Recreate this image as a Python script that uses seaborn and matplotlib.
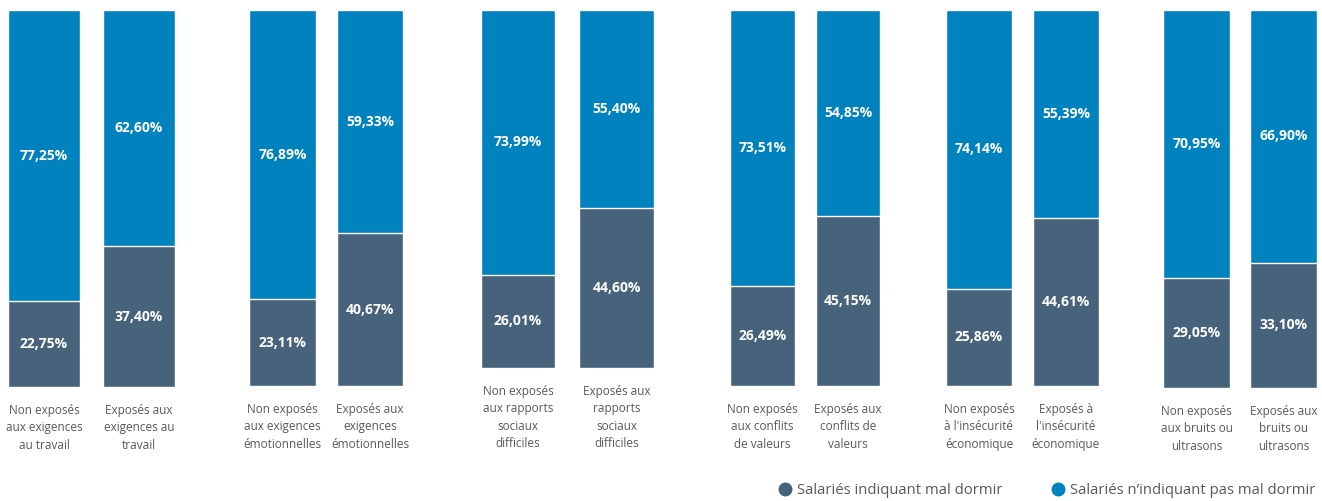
import matplotlib
matplotlib.use("Agg")
import matplotlib.pyplot as plt
import seaborn as sns
import pandas as pd
from matplotlib.lines import Line2D

sns.set_theme(style="white")
plt.rcParams['font.family'] = ['Open Sans', 'DejaVu Sans']

# ---- data ----
labels_exigences = ["Non exposés\naux exigences\nau travail", "Exposés aux\nexigences au\ntravail"]
labels_emotion = ["Non exposés\naux exigences\némotionnelles", "Exposés aux\nexigences\némotionnelles"]
labels_rapports = ["Non exposés\naux rapports\nsociaux\ndifficiles", "Exposés aux\nrapports\nsociaux\ndifficiles"]
labels_conflits = ["Non exposés\naux conflits\nde valeurs", "Exposés aux\nconflits de\nvaleurs"]
labels_insecurite = ["Non exposés\nà l'insécurité\néconomique", "Exposés à\nl'insécurité\néconomique"]
labels_bruits = ["Non exposés\naux bruits ou\nultrasons", "Exposés aux\nbruits ou\nultrasons"]

mal_dormir = [
    [22.75, 37.40],
    [23.11, 40.67],
    [26.01, 44.60],
    [26.49, 45.15],
    [25.86, 44.61],
    [29.05, 33.10],
]
pas_mal_dormir = [
    [77.25, 62.60],
    [76.89, 59.33],
    [73.99, 55.40],
    [73.51, 54.85],
    [74.14, 55.39],
    [70.95, 66.90],
]
group_labels = [labels_exigences, labels_emotion, labels_rapports,
                labels_conflits, labels_insecurite, labels_bruits]
legend_labels = ["Salariés indiquant mal dormir", "Salariés n\u2019indiquant pas mal dormir"]

DARK = "#47637c"
BLUE = "#0082be"
GREY = "#595959"

W, H = 1322, 501
fig = plt.figure(figsize=(W / 100, H / 100), dpi=100)

# pixel layout: centre of bar 1, centre of bar 2, bottom of bars
layout = [(44, 139, 387), (282.5, 370, 386), (518, 616.5, 368),
          (762.5, 848, 386), (979, 1066, 386), (1196.5, 1283.5, 388)]
top = 10


def fmt(v):
    return f"{v:.2f}".replace(".", ",") + "%"


for labels, dark, light, (c1, c2, bottom) in zip(group_labels, mal_dormir, pas_mal_dormir, layout):
    spacing = c2 - c1
    left = c1 - 0.5 * spacing
    ax = fig.add_axes([left / W, 1 - bottom / H, 2 * spacing / W, (bottom - top) / H])
    df = pd.DataFrame({"cat": labels, "dark": dark, "light": light})
    df["total"] = df["dark"] + df["light"]
    sns.barplot(data=df, x="cat", y="total", color=BLUE, width=0.76, saturation=1, ax=ax)
    sns.barplot(data=df, x="cat", y="dark", color=DARK, width=0.76, saturation=1, ax=ax)
    ax.set_ylim(0, df["total"].max())
    ax.set_xlim(-0.5, 1.5)
    for i, (d, l) in enumerate(zip(dark, light)):
        ax.text(i, d / 2, fmt(d), ha="center", va="center", color="white",
                fontsize=10, fontweight="bold")
        ax.text(i, d + l / 2, fmt(l), ha="center", va="center", color="white",
                fontsize=10, fontweight="bold")
    ax.set_xlabel("")
    ax.set_ylabel("")
    ax.set_yticks([])
    ax.tick_params(axis="x", length=0, pad=12, labelsize=8.5, colors=GREY)
    for t in ax.get_xticklabels():
        t.set_linespacing(1.45)
    for s in ax.spines.values():
        s.set_visible(False)

handles = [Line2D([], [], marker="o", ls="", color=DARK, markersize=9),
           Line2D([], [], marker="o", ls="", color=BLUE, markersize=9)]
fig.legend(handles, legend_labels, loc="center left", bbox_to_anchor=(779 / W, 1 - 491 / H),
           ncol=2, frameon=False, fontsize=10.75, handlelength=0.8, handletextpad=0.4,
           columnspacing=3.3, labelcolor=GREY, borderpad=0, borderaxespad=0)

fig.savefig("out.png", dpi=100)
